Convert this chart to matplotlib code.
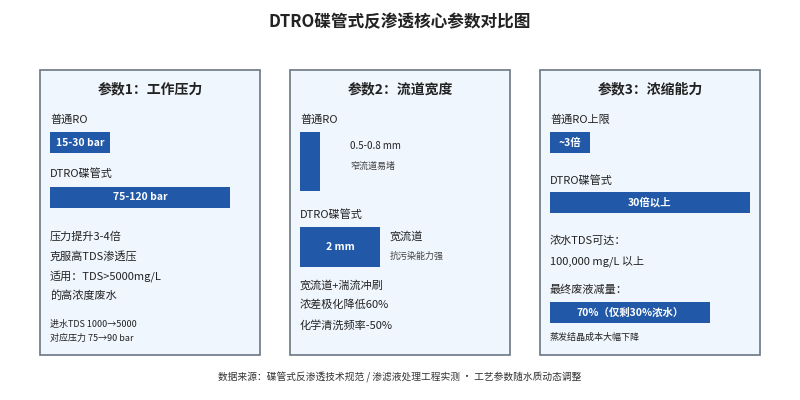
import matplotlib.pyplot as plt
from matplotlib.patches import Rectangle

plt.rcParams['font.family'] = ['Noto Sans CJK SC', 'DejaVu Sans']

title = 'DTRO碟管式反渗透核心参数对比图'
panel_titles = ['参数1：工作压力', '参数2：流道宽度', '参数3：浓缩能力']
footer = '数据来源：碟管式反渗透技术规范 / 渗滤液处理工程实测 · 工艺参数随水质动态调整'

# bar lengths (chart units)
pressure_labels = ['15-30 bar', '75-120 bar']
pressure_len = [60, 180]
channel_labels = ['', '2 mm']
channel_w = [20, 80]
channel_h = [59, 40]
conc_labels = ['~3倍', '30倍以上', '70%（仅剩30%浓水）']
conc_len = [40, 200, 160]

BLUE = '#2159a8'
fig = plt.figure(figsize=(8, 4), dpi=100)
ax = fig.add_axes([0, 0, 1, 1])
ax.set_xlim(0, 800)
ax.set_ylim(400, 0)
ax.axis('off')

ax.text(400, 22, title, ha='center', va='center', fontsize=12, fontweight='bold', color='#222')
for i, px in enumerate([40, 290, 540]):
    ax.add_patch(Rectangle((px, 70), 220, 285, fc='#f0f6fd', ec='#6b7785', lw=1.2))
    ax.text(px + 110, 89, panel_titles[i], ha='center', va='center', fontsize=10, fontweight='bold', color='#222')

def bar(x, y, w, h, label, fs=7.5):
    ax.add_patch(Rectangle((x, y), w, h, fc=BLUE, ec='none'))
    if label:
        ax.text(x + w / 2, y + h / 2, label, ha='center', va='center', fontsize=fs, color='white', fontweight='bold')

def t(x, y, s, fs=8, c='#222'):
    ax.text(x, y, s, ha='left', va='center', fontsize=fs, color=c)

# panel 1
t(50, 120, '普通RO')
bar(50, 132, pressure_len[0], 21, pressure_labels[0])
t(50, 174, 'DTRO碟管式')
bar(50, 187, pressure_len[1], 21, pressure_labels[1])
for y, s in zip([236, 256, 276, 296], ['压力提升3-4倍', '克服高TDS渗透压', '适用：TDS>5000mg/L', '的高浓度废水']):
    t(50, y, s)
t(50, 324, '进水TDS 1000→5000', 6.5)
t(50, 338, '对应压力 75→90 bar', 6.5)

# panel 2
t(300, 120, '普通RO')
bar(300, 132, channel_w[0], channel_h[0], channel_labels[0])
t(350, 146, '0.5-0.8 mm', 7)
t(350, 166, '窄流道易堵', 6.5, '#444')
t(300, 215, 'DTRO碟管式')
bar(300, 227, channel_w[1], channel_h[1], channel_labels[1])
t(390, 236, '宽流道', 8)
t(390, 256, '抗污染能力强', 6.5, '#444')
for y, s in zip([285, 305, 325], ['宽流道+湍流冲刷', '浓差极化降低60%', '化学清洗频率-50%']):
    t(300, y, s)

# panel 3
t(550, 120, '普通RO上限')
bar(550, 132, conc_len[0], 21, conc_labels[0])
t(550, 181, 'DTRO碟管式')
bar(550, 192, conc_len[1], 21, conc_labels[1])
t(550, 241, '浓水TDS可达：')
t(550, 261, '100,000 mg/L 以上')
t(550, 290, '最终废液减量：')
bar(550, 302, conc_len[2], 21, conc_labels[2])
t(550, 337, '蒸发结晶成本大幅下降', 6.5)

ax.text(400, 377, footer, ha='center', va='center', fontsize=7, color='#333')
fig.savefig('out.png', dpi=100, facecolor='white')
